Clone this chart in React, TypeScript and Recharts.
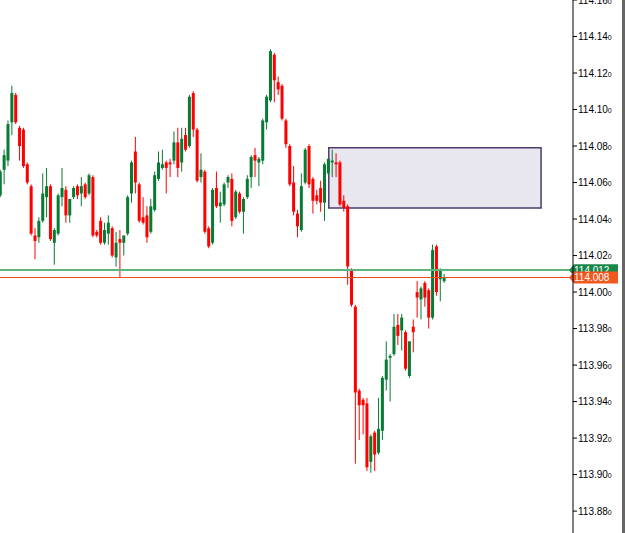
import { Bar, ComposedChart, ReferenceArea, ReferenceLine, XAxis, YAxis } from "recharts";

// USDJPY-style M1 candles
const opens = [
  114.053, 114.067, 114.072, 114.093, 114.108, 114.09, 114.089, 114.07, 114.058, 114.031,
  114.03, 114.039, 114.052, 114.058, 114.027, 114.032, 114.052, 114.056, 114.042, 114.052,
  114.058, 114.054, 114.059, 114.054, 114.063, 114.033, 114.039, 114.027, 114.032, 114.035,
  114.019, 114.029, 114.027, 114.032, 114.054, 114.077, 114.059, 114.041, 114.042, 114.033,
  114.045, 114.062, 114.068, 114.071, 114.071, 114.072, 114.082, 114.071, 114.086, 114.08,
  114.109, 114.089, 114.063, 114.066, 114.035, 114.027, 114.057, 114.047, 114.048, 114.06,
  114.062, 114.041, 114.054, 114.044, 114.052, 114.063, 114.075, 114.071, 114.072, 114.093,
  114.105, 114.13, 114.115, 114.113, 114.094, 114.08, 114.06, 114.043, 114.034, 114.06,
  114.08, 114.062, 114.053, 114.057, 114.049, 114.065, 114.071, 114.071, 114.071, 114.05,
  114.047, 114.012, 113.992, 113.946, 113.941, 113.939, 113.907, 113.923, 113.912, 113.924,
  113.952, 113.964, 113.966, 113.982, 113.979, 113.978, 113.954, 113.981, 114.0, 113.996,
  114.005, 114.001, 113.986, 114.025, 114.007, 114.006,
];
const highs = [
  114.067, 114.078, 114.094, 114.113, 114.109, 114.091, 114.09, 114.071, 114.059, 114.035,
  114.041, 114.065, 114.068, 114.059, 114.035, 114.054, 114.068, 114.058, 114.051, 114.058,
  114.059, 114.063, 114.06, 114.065, 114.064, 114.034, 114.041, 114.038, 114.042, 114.036,
  114.033, 114.034, 114.031, 114.053, 114.072, 114.085, 114.06, 114.052, 114.047, 114.051,
  114.066, 114.077, 114.078, 114.072, 114.073, 114.088, 114.09, 114.09, 114.09, 114.108,
  114.11, 114.09, 114.076, 114.067, 114.036, 114.057, 114.066, 114.055, 114.06, 114.064,
  114.065, 114.056, 114.055, 114.052, 114.064, 114.075, 114.079, 114.074, 114.095, 114.108,
  114.133, 114.131, 114.118, 114.114, 114.095, 114.081, 114.069, 114.045, 114.065, 114.079,
  114.081, 114.063, 114.056, 114.061, 114.071, 114.073, 114.078, 114.076, 114.072, 114.053,
  114.048, 114.013, 113.993, 113.947, 113.942, 113.942, 113.922, 113.924, 113.942, 113.954,
  113.973, 113.966, 113.988, 113.988, 113.988, 113.979, 113.973, 113.985, 114.006, 114.003,
  114.006, 114.002, 114.026, 114.026, 114.013, 114.01,
];
const lows = [
  114.052, 114.059, 114.069, 114.086, 114.092, 114.072, 114.068, 114.059, 114.031, 114.018,
  114.027, 114.038, 114.041, 114.028, 114.015, 114.031, 114.047, 114.038, 114.038, 114.051,
  114.051, 114.047, 114.051, 114.053, 114.03, 114.03, 114.026, 114.026, 114.026, 114.019,
  114.014, 114.008, 114.02, 114.031, 114.049, 114.054, 114.038, 114.037, 114.027, 114.032,
  114.044, 114.061, 114.067, 114.054, 114.063, 114.07, 114.063, 114.066, 114.077, 114.079,
  114.085, 114.06, 114.06, 114.032, 114.024, 114.026, 114.046, 114.038, 114.047, 114.057,
  114.036, 114.04, 114.043, 114.032, 114.051, 114.057, 114.063, 114.058, 114.07, 114.089,
  114.104, 114.104, 114.108, 114.094, 114.079, 114.058, 114.042, 114.03, 114.033, 114.059,
  114.057, 114.043, 114.048, 114.044, 114.039, 114.064, 114.063, 114.063, 114.047, 114.044,
  114.004, 113.992, 113.906, 113.919, 113.922, 113.902, 113.901, 113.902, 113.911, 113.919,
  113.946, 113.94, 113.965, 113.971, 113.968, 113.957, 113.953, 113.967, 113.986, 113.985,
  113.992, 113.98, 113.985, 113.998, 113.995, 114.005,
];
const closes = [
  114.066, 114.075, 114.092, 114.109, 114.093, 114.08, 114.069, 114.06, 114.032, 114.028,
  114.039, 114.054, 114.058, 114.029, 114.034, 114.053, 114.057, 114.042, 114.051, 114.057,
  114.053, 114.058, 114.052, 114.064, 114.031, 114.031, 114.027, 114.034, 114.038, 114.02,
  114.027, 114.027, 114.031, 114.052, 114.071, 114.06, 114.039, 114.038, 114.03, 114.047,
  114.064, 114.071, 114.07, 114.068, 114.07, 114.082, 114.068, 114.084, 114.078, 114.107,
  114.089, 114.061, 114.067, 114.033, 114.025, 114.056, 114.047, 114.049, 114.059, 114.063,
  114.039, 114.055, 114.044, 114.051, 114.062, 114.074, 114.072, 114.073, 114.094, 114.107,
  114.132, 114.116, 114.111, 114.095, 114.081, 114.059, 114.044, 114.036, 114.058, 114.078,
  114.059, 114.05, 114.05, 114.049, 114.07, 114.073, 114.072, 114.07, 114.048, 114.046,
  114.014, 113.993, 113.945, 113.938, 113.938, 113.904, 113.921, 113.911, 113.925, 113.953,
  113.963, 113.965, 113.981, 113.976, 113.986, 113.958, 113.973, 113.978, 113.997, 114.002,
  113.997, 113.986, 114.023, 114.0, 114.012, 114.008,
];

const priceTicks = [
  113.88, 113.9, 113.92, 113.94, 113.96, 113.98, 114.0, 114.02, 114.04, 114.06, 114.08, 114.1, 114.12,
  114.14, 114.16,
];
const askPrice = 114.012;
const bidPrice = 114.008;
// supply zone rectangle (bar index from / to, price bottom / top)
const zoneFrom = 85;
const zoneTo = 140;
const zoneBottom = 114.046;
const zoneTop = 114.079;

const candleData = opens.map((o, i) => ({
  idx: i,
  open: o,
  high: highs[i],
  low: lows[i],
  close: closes[i],
  range: [lows[i], highs[i]],
}));

const Candle = (props: any) => {
  const { x, y, width, height, payload } = props;
  if (!payload || !height) return null;
  const { open, close, high, low } = payload;
  const ppu = height / (high - low);
  const yOpen = y + (high - open) * ppu;
  const yClose = y + (high - close) * ppu;
  const color = close >= open ? "#087a34" : "#ff0000";
  const cx = x + width / 2;
  const top = Math.min(yOpen, yClose);
  const bodyH = Math.max(Math.abs(yClose - yOpen), 1);
  return (
    <g>
      <line x1={cx} x2={cx} y1={y} y2={y + height} stroke={color} strokeWidth={1} />
      <rect x={x} y={top} width={width} height={bodyH} fill={color} />
    </g>
  );
};

const PriceTick = (props: any) => {
  const { x, y, payload } = props;
  return (
    <text x={x - 1} y={y} dy="0.36em" fontSize={10} fill="#000" fontFamily="'Liberation Sans', Arial, sans-serif">
      <tspan>{payload.value.toFixed(2)}</tspan>
      <tspan fontSize={7}>0</tspan>
    </text>
  );
};

const PriceTag = (props: any) => {
  const { viewBox, text, fill } = props;
  if (!viewBox) return null;
  const left = viewBox.x + viewBox.width - 4;
  const y = viewBox.y;
  const half = 6;
  const right = left + 49;
  const points = `${left},${y} ${left + 5},${y - half} ${right},${y - half} ${right},${y + half} ${left + 5},${y + half}`;
  return (
    <g>
      <polygon points={points} fill={fill} />
      <text x={left + 5} y={y} dy="0.36em" fontSize={10} fill="#fff" fontFamily="'Liberation Sans', Arial, sans-serif">
        {text}
      </text>
    </g>
  );
};

const App = () => (
  <div style={{ position: "absolute", left: 0, top: 0, width: 625, height: 533, background: "#fff" }}>
    <ComposedChart width={625} height={533} data={candleData} margin={{ top: 0, right: 0, bottom: 0, left: 0 }}>
      <XAxis dataKey="idx" type="number" domain={[-0.18, 148.27]} allowDataOverflow hide />
      <YAxis
        orientation="right"
        width={52}
        domain={[113.868, 114.16]}
        allowDataOverflow
        ticks={priceTicks}
        interval={0}
        tickSize={4}
        tickLine={{ stroke: "#000" }}
        axisLine={{ stroke: "#000" }}
        tick={<PriceTick />}
      />
      <ReferenceArea
        x1={zoneFrom}
        x2={zoneTo}
        y1={zoneBottom}
        y2={zoneTop}
        fill="#e8e6ee"
        fillOpacity={1}
        stroke="#4b3b6e"
        strokeWidth={1.5}
      />
      <Bar dataKey="range" barSize={3} shape={<Candle />} isAnimationActive={false} />
      <ReferenceLine
        y={askPrice}
        stroke="#5db57c"
        strokeWidth={2}
        shapeRendering="crispEdges"
        label={<PriceTag text="114.012" fill="#17874a" />}
      />
      <ReferenceLine
        y={bidPrice}
        stroke="#f04e1c"
        strokeWidth={1}
        shapeRendering="crispEdges"
        label={<PriceTag text="114.008" fill="#f2571f" />}
      />
    </ComposedChart>
    <div style={{ position: "absolute", left: 622, top: 0, width: 3, height: 533, background: "#666" }} />
  </div>
);

export default App;
